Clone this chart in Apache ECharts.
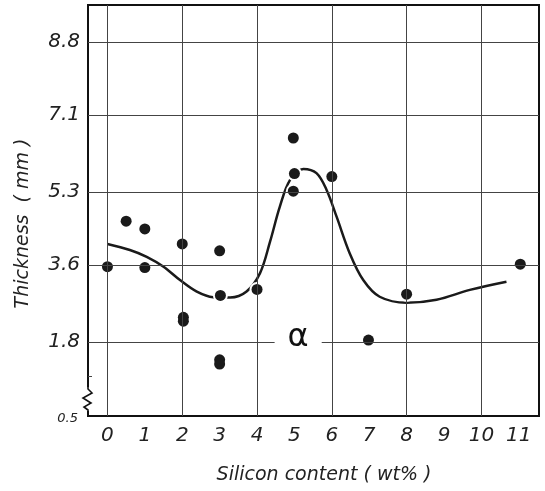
<!DOCTYPE html>
<html>
<head>
    <meta charset="utf-8" />
    <title>Thickness vs silicon content</title>
    <script src="https://cdn.jsdelivr.net/npm/echarts@6/dist/echarts.min.js"></script>
</head>
<body style="margin: 0; background: #fff">
    <div id="main" style="width: 545px; height: 491px"></div>
    <script type="text/javascript">
        // measured points
        var pointX = [0, 0.5, 1, 1, 2, 2.03, 2.03, 3, 3.02, 3, 3, 4, 4.97, 5, 4.97, 6, 6.98, 8, 11.04];
        var pointY = [3.56, 4.62, 4.44, 3.54, 4.09, 2.38, 2.29, 3.93, 2.89, 1.39, 1.29, 3.03, 6.56, 5.73, 5.32, 5.66, 1.85, 2.92, 3.62];

        // hand-drawn trend curve
        var curveX = [0, 0.6, 1.05, 1.5, 1.94, 2.39, 2.83, 3.28, 3.72, 4.08, 4.35, 4.61, 4.88, 5.24, 5.59, 5.86, 6.13, 6.48, 6.84, 7.28, 8.0, 8.8, 9.69, 10.67];
        var curveY = [4.09, 3.95, 3.79, 3.56, 3.25, 2.98, 2.85, 2.84, 2.98, 3.41, 4.15, 4.96, 5.58, 5.84, 5.74, 5.35, 4.72, 3.87, 3.25, 2.86, 2.72, 2.79, 3.02, 3.21];

        // axes
        var xLabels = [0, 1, 2, 3, 4, 5, 6, 7, 8, 9, 10, 11];
        var xGrid = [0, 2, 4, 6, 8, 10];
        var yTicks = [1.8, 3.6, 5.3, 7.1, 8.8];
        var yBreakLabel = "0.5";
        var yMin = 0.08;
        var yMax = 9.66;
        var phaseLabel = "α";
        var phasePos = [5.1, 1.9];

        var ink = "#1a1a1a";
        var labelFont = "'DejaVu Sans', sans-serif";

        var points = pointX.map(function (x, i) {
            return [x, pointY[i]];
        });
        var curve = curveX.map(function (x, i) {
            return [x, curveY[i]];
        });
        var gridLines = [];
        xGrid.forEach(function (v) {
            gridLines.push({ xAxis: v });
        });
        yTicks.forEach(function (v) {
            gridLines.push({ yAxis: v });
        });

        var myChart = echarts.init(document.getElementById("main"));
        var option = {
            animation: false,
            backgroundColor: "#fff",
            grid: {
                left: 88,
                right: 6,
                top: 5,
                bottom: 75,
                show: true,
                borderColor: "#111",
                borderWidth: 2,
            },
            xAxis: {
                type: "value",
                min: -0.52,
                max: 11.54,
                name: "Silicon content ( wt% )",
                nameLocation: "middle",
                nameGap: 50,
                nameTextStyle: {
                    color: "#222",
                    fontSize: 19,
                    fontStyle: "italic",
                    fontFamily: labelFont,
                    padding: [0, 0, 0, 21],
                },
                axisLine: { show: false, onZero: false },
                axisTick: { show: false },
                splitLine: { show: false },
                axisLabel: {
                    customValues: xLabels,
                    margin: 10,
                    color: "#222",
                    fontSize: 20,
                    fontStyle: "italic",
                    fontFamily: labelFont,
                },
            },
            yAxis: {
                type: "value",
                min: yMin,
                max: yMax,
                name: "Thickness  ( mm )",
                nameLocation: "middle",
                nameGap: 55,
                nameTextStyle: {
                    color: "#222",
                    fontSize: 19,
                    fontStyle: "italic",
                    fontFamily: labelFont,
                    padding: [0, 26, 0, 0],
                },
                axisLine: { show: false, onZero: false },
                axisTick: {
                    show: true,
                    inside: true,
                    length: 4,
                    customValues: [1.0],
                    lineStyle: { color: "#444" },
                },
                splitLine: { show: false },
                axisLabel: {
                    customValues: [yMin].concat(yTicks),
                    margin: 8,
                    color: "#222",
                    fontSize: 20,
                    fontStyle: "italic",
                    fontFamily: labelFont,
                    formatter: function (v) {
                        if (v === yMin) {
                            return "{s|" + yBreakLabel + "}";
                        }
                        return v.toFixed(1);
                    },
                    rich: {
                        s: {
                            fontSize: 13,
                            fontStyle: "italic",
                            fontFamily: labelFont,
                            color: "#222",
                            padding: [6, 2, 0, 0],
                        },
                    },
                },
            },
            series: [
                {
                    // grid lines drawn through the axes' scales
                    type: "line",
                    data: [],
                    z: 1,
                    silent: true,
                    markLine: {
                        silent: true,
                        symbol: ["none", "none"],
                        label: { show: false },
                        lineStyle: { type: "solid", color: "#444", width: 1 },
                        data: gridLines,
                    },
                },
                {
                    type: "line",
                    data: curve,
                    z: 2,
                    smooth: 0.35,
                    symbol: "none",
                    lineStyle: { color: ink, width: 2.5 },
                },
                {
                    // white halo that breaks the grid lines around each dot
                    type: "scatter",
                    data: points,
                    z: 3,
                    symbolSize: 15,
                    silent: true,
                    itemStyle: { color: "#fff", opacity: 1 },
                },
                {
                    type: "scatter",
                    data: points,
                    z: 4,
                    symbolSize: 11,
                    itemStyle: { color: ink, opacity: 1 },
                },
                {
                    type: "scatter",
                    data: [phasePos],
                    z: 5,
                    symbolSize: 0,
                    silent: true,
                    itemStyle: { color: "#111", opacity: 1 },
                    label: {
                        show: true,
                        position: "inside",
                        formatter: phaseLabel,
                        fontSize: 32,
                        color: "#111",
                        opacity: 1,
                        textBorderWidth: 0,
                        fontFamily: labelFont,
                        backgroundColor: "#fff",
                        padding: [0, 13],
                    },
                },
            ],
            graphic: [
                {
                    // axis break mark near the bottom of the y axis
                    type: "rect",
                    z: 100,
                    shape: { x: 82, y: 387, width: 12, height: 24 },
                    style: { fill: "#fff" },
                },
                {
                    type: "polyline",
                    z: 101,
                    shape: {
                        points: [[88, 385], [88, 389], [92, 393], [83, 398], [91, 403], [84, 407], [88, 410], [88, 414]],
                    },
                    style: { stroke: "#111", lineWidth: 1.6, fill: null },
                },
            ],
        };
        myChart.setOption(option);
    </script>
</body>
</html>
